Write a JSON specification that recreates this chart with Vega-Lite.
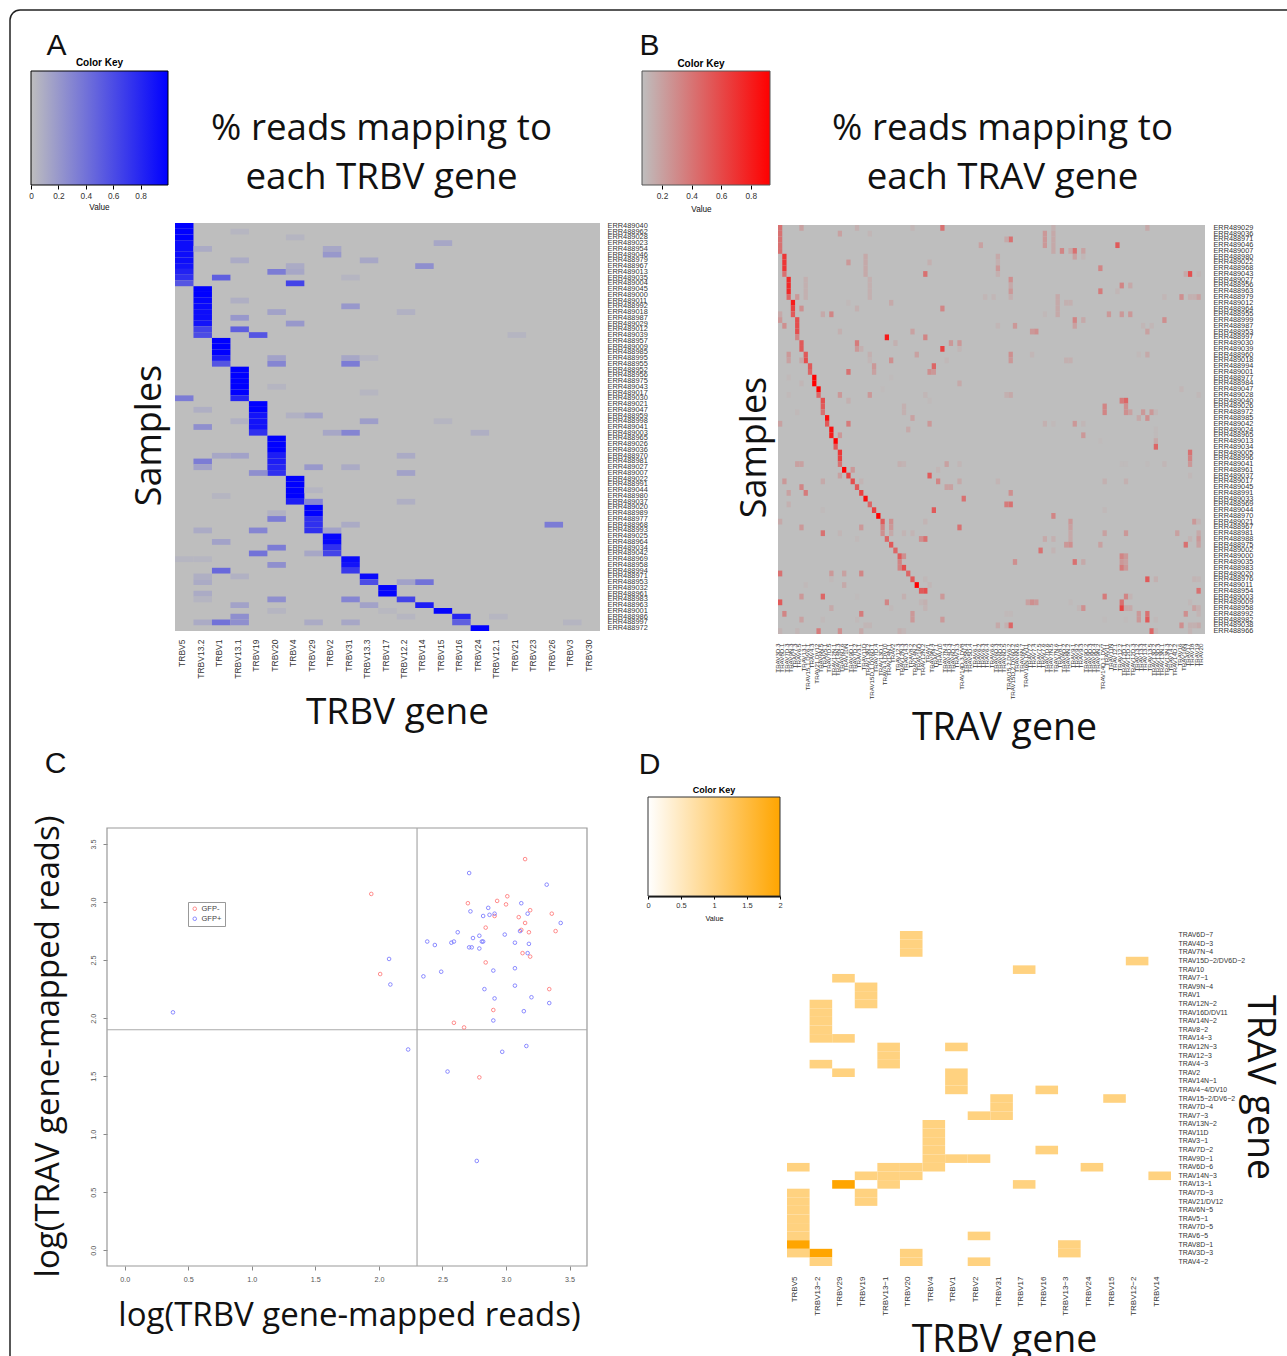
{
"$schema":"https://vega.github.io/schema/vega-lite/v6.json",
"width":1287,"height":1356,"padding":0,"autosize":{"type":"none"},"background":"white",
"config":{"view":{"stroke":null},"axis":{"grid":false,"ticks":false,"domain":false,"labelOverlap":false,"labelBound":false,"labelFlush":false,"labelFont":"Liberation Sans","labelColor":"#333","titleFont":"Open Sans","titleFontWeight":"normal","titleColor":"#111","titleBaseline":"alphabetic","titleAlign":"center","labelLimit":0}},
"resolve":{"scale":{"x":"independent","y":"independent","color":"independent"},"axis":{"x":"independent","y":"independent"},"legend":{"color":"independent"}},
"datasets":{
"unit":[{"a":0,"b":1}],
"samplesA":[{"r":0,"s":"ERR489040"},{"r":1,"s":"ERR488962"},{"r":2,"s":"ERR489028"},{"r":3,"s":"ERR489023"},{"r":4,"s":"ERR488954"},{"r":5,"s":"ERR489046"},{"r":6,"s":"ERR488979"},{"r":7,"s":"ERR488967"},{"r":8,"s":"ERR489013"},{"r":9,"s":"ERR489035"},{"r":10,"s":"ERR489004"},{"r":11,"s":"ERR489045"},{"r":12,"s":"ERR489000"},{"r":13,"s":"ERR489011"},{"r":14,"s":"ERR488992"},{"r":15,"s":"ERR489018"},{"r":16,"s":"ERR488987"},{"r":17,"s":"ERR489029"},{"r":18,"s":"ERR489012"},{"r":19,"s":"ERR489039"},{"r":20,"s":"ERR488957"},{"r":21,"s":"ERR489009"},{"r":22,"s":"ERR488985"},{"r":23,"s":"ERR488995"},{"r":24,"s":"ERR488955"},{"r":25,"s":"ERR488952"},{"r":26,"s":"ERR488956"},{"r":27,"s":"ERR488975"},{"r":28,"s":"ERR489043"},{"r":29,"s":"ERR489017"},{"r":30,"s":"ERR489030"},{"r":31,"s":"ERR489021"},{"r":32,"s":"ERR489047"},{"r":33,"s":"ERR488959"},{"r":34,"s":"ERR488998"},{"r":35,"s":"ERR489041"},{"r":36,"s":"ERR489003"},{"r":37,"s":"ERR488965"},{"r":38,"s":"ERR489026"},{"r":39,"s":"ERR489036"},{"r":40,"s":"ERR488970"},{"r":41,"s":"ERR488981"},{"r":42,"s":"ERR489027"},{"r":43,"s":"ERR489007"},{"r":44,"s":"ERR489022"},{"r":45,"s":"ERR488991"},{"r":46,"s":"ERR489044"},{"r":47,"s":"ERR488980"},{"r":48,"s":"ERR489037"},{"r":49,"s":"ERR489020"},{"r":50,"s":"ERR488989"},{"r":51,"s":"ERR488977"},{"r":52,"s":"ERR488968"},{"r":53,"s":"ERR488993"},{"r":54,"s":"ERR489025"},{"r":55,"s":"ERR488964"},{"r":56,"s":"ERR489034"},{"r":57,"s":"ERR489042"},{"r":58,"s":"ERR488969"},{"r":59,"s":"ERR488958"},{"r":60,"s":"ERR488994"},{"r":61,"s":"ERR488971"},{"r":62,"s":"ERR488953"},{"r":63,"s":"ERR489032"},{"r":64,"s":"ERR488961"},{"r":65,"s":"ERR488983"},{"r":66,"s":"ERR488963"},{"r":67,"s":"ERR489001"},{"r":68,"s":"ERR488986"},{"r":69,"s":"ERR488997"},{"r":70,"s":"ERR488972"}],
"genesA":[{"c":0,"g":"TRBV5"},{"c":1,"g":"TRBV13.2"},{"c":2,"g":"TRBV1"},{"c":3,"g":"TRBV13.1"},{"c":4,"g":"TRBV19"},{"c":5,"g":"TRBV20"},{"c":6,"g":"TRBV4"},{"c":7,"g":"TRBV29"},{"c":8,"g":"TRBV2"},{"c":9,"g":"TRBV31"},{"c":10,"g":"TRBV13.3"},{"c":11,"g":"TRBV17"},{"c":12,"g":"TRBV12.2"},{"c":13,"g":"TRBV14"},{"c":14,"g":"TRBV15"},{"c":15,"g":"TRBV16"},{"c":16,"g":"TRBV24"},{"c":17,"g":"TRBV12.1"},{"c":18,"g":"TRBV21"},{"c":19,"g":"TRBV23"},{"c":20,"g":"TRBV26"},{"c":21,"g":"TRBV3"},{"c":22,"g":"TRBV30"}],
"cellsA":[
{"r":0,"c":0,"v":1},{"r":1,"c":0,"v":1},{"r":2,"c":0,"v":1},{"r":3,"c":0,"v":0.93},{"r":4,"c":0,"v":0.93},{"r":5,"c":0,"v":0.93},{"r":6,"c":0,"v":0.93},{"r":7,"c":0,"v":0.9},{"r":8,"c":0,"v":0.82},{"r":9,"c":0,"v":0.75},{"r":10,"c":0,"v":0.55},
{"r":11,"c":1,"v":1},{"r":12,"c":1,"v":1},{"r":13,"c":1,"v":0.97},{"r":14,"c":1,"v":0.95},{"r":15,"c":1,"v":0.93},{"r":16,"c":1,"v":0.93},{"r":17,"c":1,"v":0.9},{"r":18,"c":1,"v":0.65},{"r":19,"c":1,"v":0.6},
{"r":20,"c":2,"v":1},{"r":21,"c":2,"v":1},{"r":22,"c":2,"v":1},{"r":23,"c":2,"v":0.85},{"r":24,"c":2,"v":0.55},
{"r":25,"c":3,"v":1},{"r":26,"c":3,"v":1},{"r":27,"c":3,"v":1},{"r":28,"c":3,"v":1},{"r":29,"c":3,"v":1},{"r":30,"c":3,"v":0.8},
{"r":31,"c":4,"v":1},{"r":32,"c":4,"v":1},{"r":33,"c":4,"v":0.9},{"r":34,"c":4,"v":0.9},{"r":35,"c":4,"v":0.9},{"r":36,"c":4,"v":0.75},
{"r":37,"c":5,"v":1},{"r":38,"c":5,"v":1},{"r":39,"c":5,"v":1},{"r":40,"c":5,"v":0.85},{"r":41,"c":5,"v":0.85},{"r":42,"c":5,"v":0.8},{"r":43,"c":5,"v":0.75},
{"r":44,"c":6,"v":1},{"r":45,"c":6,"v":1},{"r":46,"c":6,"v":1},{"r":47,"c":6,"v":1},{"r":48,"c":6,"v":0.85},
{"r":49,"c":7,"v":1},{"r":50,"c":7,"v":1},{"r":51,"c":7,"v":0.75},{"r":52,"c":7,"v":0.75},{"r":53,"c":7,"v":0.75},
{"r":54,"c":8,"v":0.97},{"r":55,"c":8,"v":0.97},{"r":56,"c":8,"v":0.75},{"r":57,"c":8,"v":0.65},
{"r":58,"c":9,"v":0.95},{"r":59,"c":9,"v":0.9},{"r":60,"c":9,"v":0.7},
{"r":61,"c":10,"v":0.95},{"r":62,"c":10,"v":0.6},{"r":63,"c":11,"v":0.98},{"r":64,"c":11,"v":0.98},{"r":65,"c":12,"v":0.65},{"r":66,"c":13,"v":0.85},{"r":67,"c":14,"v":0.98},{"r":68,"c":15,"v":0.8},{"r":69,"c":15,"v":0.5},{"r":70,"c":16,"v":1},
{"r":1,"c":3,"v":0.04},{"r":2,"c":6,"v":0.05},{"r":3,"c":14,"v":0.12},{"r":4,"c":1,"v":0.1},{"r":4,"c":8,"v":0.12},{"r":5,"c":8,"v":0.2},{"r":6,"c":3,"v":0.1},{"r":6,"c":10,"v":0.12},{"r":7,"c":6,"v":0.1},{"r":7,"c":13,"v":0.25},{"r":8,"c":5,"v":0.35},{"r":8,"c":6,"v":0.12},{"r":9,"c":2,"v":0.5},{"r":9,"c":9,"v":0.05},{"r":10,"c":6,"v":0.65},
{"r":13,"c":3,"v":0.08},{"r":14,"c":9,"v":0.2},{"r":15,"c":5,"v":0.15},{"r":15,"c":12,"v":0.07},{"r":16,"c":3,"v":0.2},{"r":17,"c":6,"v":0.2},{"r":18,"c":3,"v":0.5},{"r":19,"c":4,"v":0.55},{"r":19,"c":18,"v":0.05},
{"r":23,"c":5,"v":0.15},{"r":23,"c":9,"v":0.12},{"r":23,"c":10,"v":0.04},{"r":24,"c":5,"v":0.3},{"r":24,"c":9,"v":0.35},{"r":28,"c":5,"v":0.05},{"r":29,"c":10,"v":0.04},{"r":30,"c":0,"v":0.35},{"r":32,"c":1,"v":0.08},{"r":33,"c":6,"v":0.07},{"r":33,"c":7,"v":0.15},{"r":34,"c":3,"v":0.07},{"r":34,"c":10,"v":0.17},{"r":34,"c":14,"v":0.05},{"r":35,"c":1,"v":0.25},{"r":36,"c":8,"v":0.12},{"r":36,"c":9,"v":0.3},{"r":36,"c":16,"v":0.08},
{"r":40,"c":2,"v":0.12},{"r":40,"c":3,"v":0.15},{"r":40,"c":12,"v":0.1},{"r":41,"c":1,"v":0.35},{"r":42,"c":1,"v":0.15},{"r":42,"c":7,"v":0.2},{"r":42,"c":9,"v":0.1},{"r":43,"c":4,"v":0.25},{"r":43,"c":12,"v":0.15},{"r":46,"c":7,"v":0.05},{"r":47,"c":2,"v":0.05},{"r":48,"c":7,"v":0.3},{"r":48,"c":12,"v":0.08},{"r":50,"c":5,"v":0.07},{"r":51,"c":5,"v":0.35},{"r":52,"c":9,"v":0.1},{"r":52,"c":20,"v":0.35},{"r":53,"c":1,"v":0.1},{"r":53,"c":4,"v":0.3},{"r":53,"c":8,"v":0.15},{"r":55,"c":2,"v":0.15},{"r":56,"c":5,"v":0.35},{"r":57,"c":4,"v":0.4},{"r":57,"c":7,"v":0.12},{"r":58,"c":0,"v":0.04},{"r":58,"c":1,"v":0.04},{"r":59,"c":5,"v":0.25},{"r":60,"c":2,"v":0.45},{"r":61,"c":1,"v":0.08},{"r":61,"c":3,"v":0.07},{"r":62,"c":1,"v":0.1},{"r":62,"c":12,"v":0.15},{"r":62,"c":13,"v":0.4},{"r":64,"c":1,"v":0.1},{"r":65,"c":1,"v":0.05},{"r":65,"c":5,"v":0.25},{"r":65,"c":9,"v":0.3},{"r":66,"c":3,"v":0.15},{"r":66,"c":10,"v":0.15},{"r":67,"c":5,"v":0.05},{"r":67,"c":11,"v":0.03},{"r":68,"c":3,"v":0.25},{"r":68,"c":12,"v":0.04},{"r":68,"c":17,"v":0.04},{"r":69,"c":1,"v":0.1},{"r":69,"c":2,"v":0.4},{"r":69,"c":3,"v":0.25},{"r":69,"c":7,"v":0.1},{"r":69,"c":9,"v":0.12},{"r":69,"c":21,"v":0.05}],
"samplesB":[{"r":0,"s":"ERR489029"},{"r":1,"s":"ERR489036"},{"r":2,"s":"ERR488971"},{"r":3,"s":"ERR489046"},{"r":4,"s":"ERR489007"},{"r":5,"s":"ERR488980"},{"r":6,"s":"ERR489022"},{"r":7,"s":"ERR488968"},{"r":8,"s":"ERR489043"},{"r":9,"s":"ERR489027"},{"r":10,"s":"ERR488956"},{"r":11,"s":"ERR488963"},{"r":12,"s":"ERR488979"},{"r":13,"s":"ERR489012"},{"r":14,"s":"ERR488964"},{"r":15,"s":"ERR488955"},{"r":16,"s":"ERR488999"},{"r":17,"s":"ERR488987"},{"r":18,"s":"ERR488953"},{"r":19,"s":"ERR488997"},{"r":20,"s":"ERR489030"},{"r":21,"s":"ERR489039"},{"r":22,"s":"ERR488960"},{"r":23,"s":"ERR489018"},{"r":24,"s":"ERR488994"},{"r":25,"s":"ERR489001"},{"r":26,"s":"ERR488977"},{"r":27,"s":"ERR488984"},{"r":28,"s":"ERR489047"},{"r":29,"s":"ERR489028"},{"r":30,"s":"ERR489040"},{"r":31,"s":"ERR489026"},{"r":32,"s":"ERR488972"},{"r":33,"s":"ERR488985"},{"r":34,"s":"ERR489042"},{"r":35,"s":"ERR489024"},{"r":36,"s":"ERR488965"},{"r":37,"s":"ERR489013"},{"r":38,"s":"ERR489034"},{"r":39,"s":"ERR489005"},{"r":40,"s":"ERR488996"},{"r":41,"s":"ERR489041"},{"r":42,"s":"ERR488961"},{"r":43,"s":"ERR489037"},{"r":44,"s":"ERR489017"},{"r":45,"s":"ERR489045"},{"r":46,"s":"ERR488991"},{"r":47,"s":"ERR489033"},{"r":48,"s":"ERR488969"},{"r":49,"s":"ERR489044"},{"r":50,"s":"ERR488970"},{"r":51,"s":"ERR489021"},{"r":52,"s":"ERR488967"},{"r":53,"s":"ERR488981"},{"r":54,"s":"ERR488988"},{"r":55,"s":"ERR488975"},{"r":56,"s":"ERR489002"},{"r":57,"s":"ERR489000"},{"r":58,"s":"ERR489035"},{"r":59,"s":"ERR488983"},{"r":60,"s":"ERR489020"},{"r":61,"s":"ERR488976"},{"r":62,"s":"ERR489011"},{"r":63,"s":"ERR488954"},{"r":64,"s":"ERR489003"},{"r":65,"s":"ERR489009"},{"r":66,"s":"ERR488958"},{"r":67,"s":"ERR488992"},{"r":68,"s":"ERR488982"},{"r":69,"s":"ERR489038"},{"r":70,"s":"ERR488966"}],
"genesB":[{"c":0,"g":"TRAV3D.3"},{"c":1,"g":"TRAV8D.1"},{"c":2,"g":"TRAV7D.3"},{"c":3,"g":"TRAV9N.3"},{"c":4,"g":"TRAV7.3"},{"c":5,"g":"TRAV6.5"},{"c":6,"g":"TRAV13.1"},{"c":7,"g":"TRAV15.1.DV6.1"},{"c":8,"g":"TRAV4.3"},{"c":9,"g":"TRAV21.DV12"},{"c":10,"g":"TRAV6N.5"},{"c":11,"g":"TRAV5.1"},{"c":12,"g":"TRAV7D.5"},{"c":13,"g":"TRAV12N.1"},{"c":14,"g":"TRAV14N.3"},{"c":15,"g":"TRAV6D.6"},{"c":16,"g":"TRAV10N"},{"c":17,"g":"TRAV9D.1"},{"c":18,"g":"TRAV7D.2"},{"c":19,"g":"TRAV3.1"},{"c":20,"g":"TRAV11D"},{"c":21,"g":"TRAV13N.2"},{"c":22,"g":"TRAV15D.1.DV6D.1"},{"c":23,"g":"TRAV7D.4"},{"c":24,"g":"TRAV13D.1"},{"c":25,"g":"TRAV4.4.DV10"},{"c":26,"g":"TRAV14N.1"},{"c":27,"g":"TRAV2"},{"c":28,"g":"TRAV12.3"},{"c":29,"g":"TRAV12N.3"},{"c":30,"g":"TRAV14.3"},{"c":31,"g":"TRAV8.2"},{"c":32,"g":"TRAV14N.2"},{"c":33,"g":"TRAV16D"},{"c":34,"g":"TRAV12N.2"},{"c":35,"g":"TRAV1"},{"c":36,"g":"TRAV9N.4"},{"c":37,"g":"TRAV7.1"},{"c":38,"g":"TRAV10"},{"c":39,"g":"TRAV7N.4"},{"c":40,"g":"TRAV4D.3"},{"c":41,"g":"TRAV6D.7"},{"c":42,"g":"TRAV3.3"},{"c":43,"g":"TRAV14D.3.DV8"},{"c":44,"g":"TRAV5N.4"},{"c":45,"g":"TRAV5D.4"},{"c":46,"g":"TRAV6.1"},{"c":47,"g":"TRAV6.2"},{"c":48,"g":"TRAV6.3"},{"c":49,"g":"TRAV6.4"},{"c":50,"g":"TRAV6.6"},{"c":51,"g":"TRAV6D.3"},{"c":52,"g":"TRAV6D.4"},{"c":53,"g":"TRAV6D.5"},{"c":54,"g":"TRAV15.2.DV6.2"},{"c":55,"g":"TRAV15D.2.DV6D.2"},{"c":56,"g":"TRAV6N.6"},{"c":57,"g":"TRAV6N.7"},{"c":58,"g":"TRAV16N.DV11"},{"c":59,"g":"TRAV7.2"},{"c":60,"g":"TRAV7.4"},{"c":61,"g":"TRAV7.5"},{"c":62,"g":"TRAV7.6"},{"c":63,"g":"TRAV7D.6"},{"c":64,"g":"TRAV7N.5"},{"c":65,"g":"TRAV7N.6"},{"c":66,"g":"TRAV8.1"},{"c":67,"g":"TRAV8D.2"},{"c":68,"g":"TRAV8N.2"},{"c":69,"g":"TRAV9.1"},{"c":70,"g":"TRAV9.2"},{"c":71,"g":"TRAV9.3"},{"c":72,"g":"TRAV9D.2"},{"c":73,"g":"TRAV9D.3"},{"c":74,"g":"TRAV9D.4"},{"c":75,"g":"TRAV9N.2"},{"c":76,"g":"TRAV14D.1.DV7"},{"c":77,"g":"TRAV11"},{"c":78,"g":"TRAV11N"},{"c":79,"g":"TRAV12.1"},{"c":80,"g":"TRAV12.2"},{"c":81,"g":"TRAV12D.1"},{"c":82,"g":"TRAV12D.2"},{"c":83,"g":"TRAV12D.3"},{"c":84,"g":"TRAV13.2"},{"c":85,"g":"TRAV13.3"},{"c":86,"g":"TRAV13.4"},{"c":87,"g":"TRAV13.5"},{"c":88,"g":"TRAV13D.2"},{"c":89,"g":"TRAV13D.3"},{"c":90,"g":"TRAV13N.1"},{"c":91,"g":"TRAV13N.3"},{"c":92,"g":"TRAV14.2"},{"c":93,"g":"TRAV14D.2"},{"c":94,"g":"TRAV16"},{"c":95,"g":"TRAV16N"},{"c":96,"g":"TRAV17"},{"c":97,"g":"TRAV18"},{"c":98,"g":"TRAV19"},{"c":99,"g":"TRAV20"}],
"cellsB":[
{"r":0,"c":0,"v":0.5},{"r":1,"c":0,"v":0.5},{"r":2,"c":0,"v":0.5},{"r":3,"c":0,"v":0.5},{"r":4,"c":0,"v":0.5},{"r":5,"c":1,"v":0.75},{"r":6,"c":1,"v":0.75},{"r":7,"c":1,"v":0.75},{"r":8,"c":1,"v":0.5},{"r":9,"c":2,"v":0.8},{"r":10,"c":2,"v":0.8},{"r":11,"c":2,"v":0.8},{"r":12,"c":2,"v":0.55},{"r":13,"c":3,"v":0.85},{"r":14,"c":3,"v":0.7},{"r":15,"c":3,"v":0.6},{"r":16,"c":4,"v":0.65},{"r":17,"c":4,"v":0.65},{"r":18,"c":4,"v":0.65},{"r":19,"c":4,"v":0.4},{"r":20,"c":5,"v":0.6},{"r":21,"c":5,"v":0.6},{"r":22,"c":6,"v":0.6},{"r":23,"c":6,"v":0.65},{"r":24,"c":7,"v":0.6},{"r":25,"c":7,"v":0.55},{"r":26,"c":8,"v":0.95},{"r":27,"c":8,"v":0.95},{"r":28,"c":9,"v":0.95},{"r":29,"c":9,"v":0.55},{"r":30,"c":10,"v":0.65},{"r":31,"c":10,"v":0.6},{"r":32,"c":10,"v":0.5},{"r":33,"c":11,"v":0.9},{"r":34,"c":11,"v":0.6},{"r":35,"c":12,"v":0.9},{"r":36,"c":12,"v":0.85},{"r":37,"c":13,"v":0.95},{"r":38,"c":13,"v":0.6},{"r":39,"c":14,"v":0.75},{"r":40,"c":14,"v":0.7},{"r":41,"c":14,"v":0.5},{"r":42,"c":15,"v":0.95},{"r":43,"c":16,"v":0.7},{"r":44,"c":17,"v":0.65},{"r":45,"c":18,"v":0.6},{"r":46,"c":19,"v":0.7},{"r":47,"c":20,"v":0.9},{"r":48,"c":21,"v":0.55},{"r":49,"c":22,"v":0.7},{"r":50,"c":23,"v":0.95},{"r":51,"c":24,"v":0.6},{"r":52,"c":24,"v":0.4},{"r":53,"c":24,"v":0.35},{"r":54,"c":25,"v":0.55},{"r":55,"c":26,"v":0.6},{"r":56,"c":27,"v":0.55},{"r":57,"c":28,"v":0.6},{"r":58,"c":28,"v":0.4},{"r":59,"c":28,"v":0.4},{"r":57,"c":29,"v":0.35},{"r":59,"c":29,"v":0.65},{"r":60,"c":30,"v":0.55},{"r":61,"c":31,"v":0.6},{"r":62,"c":32,"v":0.95},{"r":63,"c":33,"v":0.6},{"r":63,"c":34,"v":0.65},
{"r":0,"c":5,"v":0.25},{"r":0,"c":38,"v":0.5},{"r":0,"c":18,"v":0.15},{"r":0,"c":31,"v":0.1},{"r":0,"c":64,"v":0.15},{"r":1,"c":64,"v":0.2},{"r":2,"c":64,"v":0.2},{"r":3,"c":64,"v":0.2},{"r":4,"c":64,"v":0.2},{"r":1,"c":62,"v":0.3},{"r":2,"c":62,"v":0.3},{"r":3,"c":62,"v":0.3},{"r":0,"c":86,"v":0.2},{"r":1,"c":14,"v":0.25},{"r":1,"c":21,"v":0.1},{"r":2,"c":54,"v":0.5},{"r":2,"c":53,"v":0.2},{"r":3,"c":47,"v":0.25},{"r":3,"c":79,"v":0.6},{"r":4,"c":66,"v":0.4},{"r":4,"c":68,"v":0.2},{"r":4,"c":69,"v":0.5},{"r":4,"c":71,"v":0.25},{"r":5,"c":69,"v":0.25},{"r":5,"c":71,"v":0.1},{"r":5,"c":51,"v":0.2},{"r":6,"c":51,"v":0.15},{"r":7,"c":51,"v":0.3},{"r":8,"c":51,"v":0.15},{"r":5,"c":20,"v":0.2},{"r":6,"c":20,"v":0.2},{"r":7,"c":20,"v":0.2},{"r":8,"c":20,"v":0.2},{"r":6,"c":16,"v":0.3},{"r":6,"c":35,"v":0.15},{"r":7,"c":75,"v":0.4},{"r":8,"c":34,"v":0.5},{"r":8,"c":96,"v":0.65},{"r":8,"c":95,"v":0.2},{"r":8,"c":98,"v":0.1},{"r":9,"c":54,"v":0.35},{"r":9,"c":6,"v":0.15},{"r":10,"c":6,"v":0.15},{"r":11,"c":6,"v":0.15},{"r":12,"c":6,"v":0.15},{"r":9,"c":21,"v":0.15},{"r":10,"c":21,"v":0.15},{"r":11,"c":21,"v":0.15},{"r":12,"c":21,"v":0.15},{"r":10,"c":80,"v":0.4},{"r":10,"c":82,"v":0.2},{"r":10,"c":54,"v":0.2},{"r":11,"c":54,"v":0.3},{"r":12,"c":54,"v":0.15},{"r":11,"c":75,"v":0.45},{"r":11,"c":79,"v":0.1},{"r":12,"c":4,"v":0.3},{"r":12,"c":48,"v":0.1},{"r":12,"c":50,"v":0.1},{"r":12,"c":65,"v":0.2},{"r":13,"c":65,"v":0.2},{"r":14,"c":65,"v":0.2},{"r":15,"c":65,"v":0.2},{"r":12,"c":90,"v":0.1},{"r":12,"c":94,"v":0.35},{"r":12,"c":96,"v":0.15},{"r":12,"c":97,"v":0.15},{"r":12,"c":98,"v":0.25},{"r":13,"c":16,"v":0.07},{"r":13,"c":26,"v":0.2},{"r":13,"c":67,"v":0.15},{"r":13,"c":68,"v":0.15},{"r":14,"c":5,"v":0.35},{"r":14,"c":18,"v":0.15},{"r":14,"c":38,"v":0.4},{"r":15,"c":0,"v":0.2},{"r":15,"c":10,"v":0.2},{"r":15,"c":12,"v":0.4},{"r":15,"c":62,"v":0.08},{"r":15,"c":77,"v":0.3},{"r":15,"c":80,"v":0.3},{"r":15,"c":82,"v":0.3},{"r":16,"c":0,"v":0.3},{"r":16,"c":69,"v":0.4},{"r":16,"c":71,"v":0.2},{"r":16,"c":90,"v":0.35},{"r":17,"c":1,"v":0.35},{"r":17,"c":55,"v":0.3},{"r":17,"c":51,"v":0.1},{"r":17,"c":69,"v":0.25},{"r":17,"c":85,"v":0.1},{"r":17,"c":87,"v":0.1},{"r":18,"c":14,"v":0.15},{"r":18,"c":31,"v":0.25},{"r":18,"c":59,"v":0.3},{"r":18,"c":60,"v":0.35},{"r":18,"c":86,"v":0.25},{"r":19,"c":25,"v":0.85},{"r":19,"c":34,"v":0.4},{"r":20,"c":18,"v":0.45},{"r":20,"c":27,"v":0.15},{"r":20,"c":40,"v":0.3},{"r":20,"c":42,"v":0.3},{"r":21,"c":18,"v":0.3},{"r":21,"c":19,"v":0.15},{"r":21,"c":38,"v":0.7},{"r":21,"c":42,"v":0.1},{"r":22,"c":2,"v":0.3},{"r":22,"c":21,"v":0.15},{"r":22,"c":32,"v":0.25},{"r":22,"c":54,"v":0.35},{"r":22,"c":59,"v":0.1},{"r":22,"c":86,"v":0.2},{"r":22,"c":84,"v":0.07},{"r":23,"c":2,"v":0.25},{"r":23,"c":5,"v":0.2},{"r":23,"c":21,"v":0.1},{"r":23,"c":26,"v":0.35},{"r":23,"c":54,"v":0.3},{"r":23,"c":39,"v":0.08},{"r":23,"c":67,"v":0.15},{"r":23,"c":68,"v":0.15},{"r":24,"c":36,"v":0.55},{"r":24,"c":22,"v":0.3},{"r":25,"c":16,"v":0.5},{"r":25,"c":22,"v":0.25},{"r":25,"c":35,"v":0.35},{"r":25,"c":36,"v":0.3},{"r":26,"c":2,"v":0.07},{"r":26,"c":26,"v":0.05},{"r":27,"c":5,"v":0.1},{"r":27,"c":42,"v":0.2},{"r":28,"c":24,"v":0.05},{"r":28,"c":94,"v":0.1},{"r":29,"c":2,"v":0.07},{"r":29,"c":14,"v":0.3},{"r":29,"c":21,"v":0.3},{"r":29,"c":34,"v":0.1},{"r":29,"c":53,"v":0.15},{"r":29,"c":54,"v":0.2},{"r":29,"c":98,"v":0.08},{"r":30,"c":16,"v":0.15},{"r":30,"c":35,"v":0.06},{"r":30,"c":80,"v":0.45},{"r":30,"c":81,"v":0.55},{"r":31,"c":29,"v":0.15},{"r":31,"c":76,"v":0.4},{"r":31,"c":81,"v":0.35},{"r":32,"c":4,"v":0.07},{"r":32,"c":29,"v":0.15},{"r":32,"c":76,"v":0.4},{"r":32,"c":81,"v":0.35},{"r":32,"c":82,"v":0.25},{"r":32,"c":85,"v":0.3},{"r":32,"c":87,"v":0.3},{"r":32,"c":88,"v":0.1},{"r":33,"c":31,"v":0.25},{"r":33,"c":84,"v":0.2},{"r":33,"c":86,"v":0.35},{"r":34,"c":0,"v":0.25},{"r":34,"c":16,"v":0.45},{"r":34,"c":35,"v":0.3},{"r":34,"c":62,"v":0.15},{"r":34,"c":64,"v":0.07},{"r":34,"c":69,"v":0.3},{"r":34,"c":71,"v":0.1},{"r":35,"c":30,"v":0.2},{"r":35,"c":88,"v":0.06},{"r":36,"c":14,"v":0.3},{"r":36,"c":71,"v":0.3},{"r":36,"c":88,"v":0.06},{"r":37,"c":88,"v":0.2},{"r":37,"c":75,"v":0.05},{"r":38,"c":88,"v":0.55},{"r":39,"c":96,"v":0.5},{"r":40,"c":96,"v":0.4},{"r":41,"c":4,"v":0.25},{"r":41,"c":5,"v":0.25},{"r":41,"c":28,"v":0.15},{"r":41,"c":29,"v":0.12},{"r":41,"c":39,"v":0.25},{"r":41,"c":42,"v":0.1},{"r":41,"c":80,"v":0.05},{"r":41,"c":81,"v":0.05},{"r":41,"c":86,"v":0.05},{"r":41,"c":90,"v":0.1},{"r":41,"c":96,"v":0.3},{"r":42,"c":17,"v":0.3},{"r":42,"c":37,"v":0.1},{"r":43,"c":14,"v":0.25},{"r":43,"c":35,"v":0.6},{"r":43,"c":96,"v":0.08},{"r":44,"c":1,"v":0.3},{"r":44,"c":10,"v":0.2},{"r":44,"c":19,"v":0.12},{"r":44,"c":37,"v":0.4},{"r":44,"c":42,"v":0.2},{"r":44,"c":51,"v":0.12},{"r":44,"c":76,"v":0.15},{"r":44,"c":81,"v":0.15},{"r":45,"c":5,"v":0.4},{"r":45,"c":39,"v":0.25},{"r":45,"c":40,"v":0.25},{"r":46,"c":2,"v":0.25},{"r":46,"c":6,"v":0.45},{"r":46,"c":54,"v":0.35},{"r":47,"c":43,"v":0.5},{"r":48,"c":2,"v":0.15},{"r":48,"c":53,"v":0.45},{"r":48,"c":54,"v":0.5},{"r":49,"c":10,"v":0.06},{"r":49,"c":36,"v":0.6},{"r":49,"c":76,"v":0.08},{"r":50,"c":64,"v":0.4},{"r":51,"c":0,"v":0.2},{"r":51,"c":26,"v":0.35},{"r":51,"c":34,"v":0.12},{"r":51,"c":68,"v":0.3},{"r":51,"c":97,"v":0.3},{"r":51,"c":98,"v":0.12},{"r":52,"c":5,"v":0.3},{"r":52,"c":19,"v":0.3},{"r":52,"c":26,"v":0.3},{"r":52,"c":42,"v":0.5},{"r":52,"c":68,"v":0.25},{"r":53,"c":10,"v":0.5},{"r":53,"c":14,"v":0.1},{"r":53,"c":26,"v":0.2},{"r":53,"c":29,"v":0.12},{"r":53,"c":31,"v":0.12},{"r":53,"c":68,"v":0.2},{"r":53,"c":76,"v":0.25},{"r":53,"c":81,"v":0.3},{"r":53,"c":93,"v":0.25},{"r":53,"c":98,"v":0.2},{"r":54,"c":18,"v":0.07},{"r":54,"c":33,"v":0.35},{"r":54,"c":34,"v":0.5},{"r":54,"c":62,"v":0.2},{"r":54,"c":64,"v":0.15},{"r":54,"c":68,"v":0.2},{"r":54,"c":96,"v":0.12},{"r":54,"c":98,"v":0.3},{"r":55,"c":67,"v":0.3},{"r":55,"c":68,"v":0.35},{"r":55,"c":75,"v":0.25},{"r":55,"c":95,"v":0.5},{"r":55,"c":98,"v":0.25},{"r":56,"c":61,"v":0.5},{"r":56,"c":64,"v":0.12},{"r":57,"c":80,"v":0.4},{"r":58,"c":80,"v":0.3},{"r":59,"c":80,"v":0.45},{"r":57,"c":81,"v":0.3},{"r":58,"c":81,"v":0.25},{"r":59,"c":81,"v":0.3},{"r":58,"c":55,"v":0.35},{"r":58,"c":69,"v":0.5},{"r":58,"c":71,"v":0.2},{"r":60,"c":0,"v":0.5},{"r":60,"c":12,"v":0.3},{"r":60,"c":15,"v":0.25},{"r":60,"c":19,"v":0.4},{"r":61,"c":12,"v":0.07},{"r":61,"c":34,"v":0.08},{"r":61,"c":86,"v":0.6},{"r":61,"c":88,"v":0.15},{"r":61,"c":97,"v":0.12},{"r":61,"c":98,"v":0.1},{"r":62,"c":6,"v":0.07},{"r":62,"c":15,"v":0.2},{"r":62,"c":35,"v":0.1},{"r":63,"c":98,"v":0.5},{"r":64,"c":5,"v":0.3},{"r":64,"c":10,"v":0.55},{"r":64,"c":18,"v":0.05},{"r":64,"c":29,"v":0.15},{"r":64,"c":38,"v":0.3},{"r":64,"c":76,"v":0.45},{"r":64,"c":81,"v":0.4},{"r":64,"c":82,"v":0.12},{"r":65,"c":0,"v":0.6},{"r":65,"c":25,"v":0.4},{"r":65,"c":33,"v":0.1},{"r":65,"c":34,"v":0.15},{"r":65,"c":58,"v":0.25},{"r":65,"c":59,"v":0.35},{"r":65,"c":60,"v":0.3},{"r":65,"c":68,"v":0.06},{"r":65,"c":80,"v":0.5},{"r":65,"c":96,"v":0.08},{"r":66,"c":12,"v":0.2},{"r":66,"c":26,"v":0.07},{"r":66,"c":34,"v":0.12},{"r":66,"c":70,"v":0.1},{"r":66,"c":71,"v":0.35},{"r":66,"c":80,"v":0.7},{"r":66,"c":81,"v":0.2},{"r":66,"c":82,"v":0.2},{"r":66,"c":97,"v":0.25},{"r":66,"c":98,"v":0.15},{"r":67,"c":1,"v":0.4},{"r":67,"c":19,"v":0.45},{"r":67,"c":31,"v":0.3},{"r":67,"c":53,"v":0.07},{"r":67,"c":54,"v":0.07},{"r":67,"c":84,"v":0.3},{"r":67,"c":86,"v":0.5},{"r":67,"c":95,"v":0.35},{"r":67,"c":98,"v":0.12},{"r":68,"c":5,"v":0.25},{"r":68,"c":10,"v":0.07},{"r":68,"c":18,"v":0.07},{"r":68,"c":31,"v":0.3},{"r":68,"c":38,"v":0.3},{"r":68,"c":76,"v":0.05},{"r":68,"c":81,"v":0.05},{"r":68,"c":84,"v":0.3},{"r":68,"c":86,"v":0.6},{"r":68,"c":88,"v":0.07},{"r":69,"c":20,"v":0.1},{"r":69,"c":21,"v":0.1},{"r":69,"c":51,"v":0.2},{"r":69,"c":53,"v":0.15},{"r":69,"c":54,"v":0.55},{"r":69,"c":94,"v":0.35},{"r":69,"c":96,"v":0.15},{"r":69,"c":97,"v":0.15},{"r":69,"c":98,"v":0.2},{"r":70,"c":0,"v":0.12},{"r":70,"c":4,"v":0.1},{"r":70,"c":9,"v":0.45},{"r":70,"c":14,"v":0.35},{"r":70,"c":19,"v":0.2},{"r":70,"c":28,"v":0.15},{"r":70,"c":29,"v":0.1},{"r":70,"c":87,"v":0.55},{"r":70,"c":88,"v":0.1},{"r":70,"c":96,"v":0.12}],
"samplesD":[{"r":0,"s":"TRAV6D−7"},{"r":1,"s":"TRAV4D−3"},{"r":2,"s":"TRAV7N−4"},{"r":3,"s":"TRAV15D−2/DV6D−2"},{"r":4,"s":"TRAV10"},{"r":5,"s":"TRAV7−1"},{"r":6,"s":"TRAV9N−4"},{"r":7,"s":"TRAV1"},{"r":8,"s":"TRAV12N−2"},{"r":9,"s":"TRAV16D/DV11"},{"r":10,"s":"TRAV14N−2"},{"r":11,"s":"TRAV8−2"},{"r":12,"s":"TRAV14−3"},{"r":13,"s":"TRAV12N−3"},{"r":14,"s":"TRAV12−3"},{"r":15,"s":"TRAV4−3"},{"r":16,"s":"TRAV2"},{"r":17,"s":"TRAV14N−1"},{"r":18,"s":"TRAV4−4/DV10"},{"r":19,"s":"TRAV15−2/DV6−2"},{"r":20,"s":"TRAV7D−4"},{"r":21,"s":"TRAV7−3"},{"r":22,"s":"TRAV13N−2"},{"r":23,"s":"TRAV11D"},{"r":24,"s":"TRAV3−1"},{"r":25,"s":"TRAV7D−2"},{"r":26,"s":"TRAV9D−1"},{"r":27,"s":"TRAV6D−6"},{"r":28,"s":"TRAV14N−3"},{"r":29,"s":"TRAV13−1"},{"r":30,"s":"TRAV7D−3"},{"r":31,"s":"TRAV21/DV12"},{"r":32,"s":"TRAV6N−5"},{"r":33,"s":"TRAV5−1"},{"r":34,"s":"TRAV7D−5"},{"r":35,"s":"TRAV6−5"},{"r":36,"s":"TRAV8D−1"},{"r":37,"s":"TRAV3D−3"},{"r":38,"s":"TRAV4−2"}],
"genesD":[{"c":0,"g":"TRBV5"},{"c":1,"g":"TRBV13−2"},{"c":2,"g":"TRBV29"},{"c":3,"g":"TRBV19"},{"c":4,"g":"TRBV13−1"},{"c":5,"g":"TRBV20"},{"c":6,"g":"TRBV4"},{"c":7,"g":"TRBV1"},{"c":8,"g":"TRBV2"},{"c":9,"g":"TRBV31"},{"c":10,"g":"TRBV17"},{"c":11,"g":"TRBV16"},{"c":12,"g":"TRBV13−3"},{"c":13,"g":"TRBV24"},{"c":14,"g":"TRBV15"},{"c":15,"g":"TRBV12−2"},{"c":16,"g":"TRBV14"}],
"cellsD":[{"r":0,"c":5,"v":1},{"r":1,"c":5,"v":1},{"r":2,"c":5,"v":1},{"r":3,"c":15,"v":1},{"r":4,"c":10,"v":1},{"r":5,"c":2,"v":1},{"r":6,"c":3,"v":1},{"r":7,"c":3,"v":1},{"r":8,"c":3,"v":1},{"r":8,"c":1,"v":1},{"r":9,"c":1,"v":1},{"r":10,"c":1,"v":1},{"r":11,"c":1,"v":1},{"r":12,"c":1,"v":1},{"r":12,"c":2,"v":1},{"r":13,"c":4,"v":1},{"r":14,"c":4,"v":1},{"r":15,"c":4,"v":1},{"r":13,"c":7,"v":1},{"r":15,"c":1,"v":1},{"r":16,"c":2,"v":1},{"r":16,"c":7,"v":1},{"r":17,"c":7,"v":1},{"r":18,"c":7,"v":1},{"r":18,"c":11,"v":1},{"r":19,"c":9,"v":1},{"r":20,"c":9,"v":1},{"r":21,"c":9,"v":1},{"r":19,"c":14,"v":1},{"r":21,"c":8,"v":1},{"r":22,"c":6,"v":1},{"r":23,"c":6,"v":1},{"r":24,"c":6,"v":1},{"r":25,"c":6,"v":1},{"r":26,"c":6,"v":1},{"r":27,"c":6,"v":1},{"r":25,"c":11,"v":1},{"r":26,"c":7,"v":1},{"r":26,"c":8,"v":1},{"r":27,"c":0,"v":1},{"r":27,"c":4,"v":1},{"r":27,"c":5,"v":1},{"r":27,"c":13,"v":1},{"r":28,"c":3,"v":1},{"r":28,"c":4,"v":1},{"r":28,"c":5,"v":1},{"r":28,"c":16,"v":1},{"r":29,"c":2,"v":2},{"r":29,"c":4,"v":1},{"r":29,"c":10,"v":1},{"r":30,"c":0,"v":1},{"r":31,"c":0,"v":1},{"r":32,"c":0,"v":1},{"r":33,"c":0,"v":1},{"r":34,"c":0,"v":1},{"r":35,"c":0,"v":1},{"r":36,"c":0,"v":2},{"r":37,"c":0,"v":1},{"r":30,"c":3,"v":1},{"r":31,"c":3,"v":1},{"r":35,"c":8,"v":1},{"r":36,"c":12,"v":1},{"r":37,"c":12,"v":1},{"r":37,"c":1,"v":2},{"r":38,"c":1,"v":1},{"r":37,"c":5,"v":1},{"r":38,"c":5,"v":1},{"r":38,"c":8,"v":1}],
"scatter":[{"tr":3.15,"ta":3.37,"g":"GFP-"},{"tr":1.94,"ta":3.07,"g":"GFP-"},{"tr":3.01,"ta":3.05,"g":"GFP-"},{"tr":2.93,"ta":3.01,"g":"GFP-"},{"tr":2.7,"ta":2.99,"g":"GFP-"},{"tr":3.0,"ta":2.98,"g":"GFP-"},{"tr":3.19,"ta":2.93,"g":"GFP-"},{"tr":3.36,"ta":2.9,"g":"GFP-"},{"tr":2.91,"ta":2.88,"g":"GFP-"},{"tr":3.1,"ta":2.87,"g":"GFP-"},{"tr":3.15,"ta":2.82,"g":"GFP-"},{"tr":2.84,"ta":2.78,"g":"GFP-"},{"tr":3.12,"ta":2.76,"g":"GFP-"},{"tr":3.18,"ta":2.74,"g":"GFP-"},{"tr":3.39,"ta":2.75,"g":"GFP-"},{"tr":3.13,"ta":2.56,"g":"GFP-"},{"tr":3.19,"ta":2.53,"g":"GFP-"},{"tr":2.84,"ta":2.48,"g":"GFP-"},{"tr":2.01,"ta":2.38,"g":"GFP-"},{"tr":3.34,"ta":2.25,"g":"GFP-"},{"tr":2.9,"ta":2.07,"g":"GFP-"},{"tr":2.59,"ta":1.96,"g":"GFP-"},{"tr":2.67,"ta":1.92,"g":"GFP-"},{"tr":2.79,"ta":1.49,"g":"GFP-"},
{"tr":2.71,"ta":3.25,"g":"GFP+"},{"tr":3.32,"ta":3.15,"g":"GFP+"},{"tr":3.12,"ta":2.99,"g":"GFP+"},{"tr":2.86,"ta":2.95,"g":"GFP+"},{"tr":2.72,"ta":2.92,"g":"GFP+"},{"tr":2.91,"ta":2.9,"g":"GFP+"},{"tr":3.17,"ta":2.9,"g":"GFP+"},{"tr":2.82,"ta":2.88,"g":"GFP+"},{"tr":2.87,"ta":2.89,"g":"GFP+"},{"tr":3.43,"ta":2.82,"g":"GFP+"},{"tr":3.11,"ta":2.75,"g":"GFP+"},{"tr":2.62,"ta":2.74,"g":"GFP+"},{"tr":2.99,"ta":2.72,"g":"GFP+"},{"tr":2.79,"ta":2.71,"g":"GFP+"},{"tr":2.74,"ta":2.69,"g":"GFP+"},{"tr":2.38,"ta":2.66,"g":"GFP+"},{"tr":2.59,"ta":2.66,"g":"GFP+"},{"tr":2.57,"ta":2.65,"g":"GFP+"},{"tr":2.44,"ta":2.63,"g":"GFP+"},{"tr":2.81,"ta":2.66,"g":"GFP+"},{"tr":2.82,"ta":2.66,"g":"GFP+"},{"tr":3.07,"ta":2.65,"g":"GFP+"},{"tr":3.18,"ta":2.64,"g":"GFP+"},{"tr":2.71,"ta":2.61,"g":"GFP+"},{"tr":2.73,"ta":2.61,"g":"GFP+"},{"tr":2.79,"ta":2.6,"g":"GFP+"},{"tr":3.17,"ta":2.56,"g":"GFP+"},{"tr":2.08,"ta":2.51,"g":"GFP+"},{"tr":3.07,"ta":2.43,"g":"GFP+"},{"tr":2.9,"ta":2.41,"g":"GFP+"},{"tr":2.49,"ta":2.4,"g":"GFP+"},{"tr":2.35,"ta":2.36,"g":"GFP+"},{"tr":2.09,"ta":2.29,"g":"GFP+"},{"tr":3.07,"ta":2.28,"g":"GFP+"},{"tr":2.83,"ta":2.25,"g":"GFP+"},{"tr":2.91,"ta":2.17,"g":"GFP+"},{"tr":3.2,"ta":2.18,"g":"GFP+"},{"tr":3.34,"ta":2.13,"g":"GFP+"},{"tr":3.14,"ta":2.06,"g":"GFP+"},{"tr":2.9,"ta":1.98,"g":"GFP+"},{"tr":0.38,"ta":2.05,"g":"GFP+"},{"tr":2.23,"ta":1.73,"g":"GFP+"},{"tr":3.16,"ta":1.76,"g":"GFP+"},{"tr":2.97,"ta":1.71,"g":"GFP+"},{"tr":2.54,"ta":1.54,"g":"GFP+"},{"tr":2.77,"ta":0.77,"g":"GFP+"}]
},
"layer":[
{"data":{"name":"unit"},"mark":{"type":"rect","filled":false,"stroke":"#222","strokeWidth":1.5,"cornerRadius":10},
 "encoding":{"x":{"field":"a","type":"quantitative","scale":{"domain":[0,1],"range":[10,1500],"nice":false,"zero":false},"axis":null},"x2":{"field":"b"},"y":{"field":"a","type":"quantitative","scale":{"domain":[0,1],"range":[10,1500],"nice":false,"zero":false},"axis":null},"y2":{"field":"b"}}},

{"data":{"name":"unit"},"mark":{"type":"rect","fill":"#BEBEBE"},
 "encoding":{"x":{"field":"a","type":"quantitative","scale":{"domain":[0,1],"range":[175,600],"nice":false,"zero":false},"axis":{"orient":"top","offset":-223,"labels":false,"title":["% reads mapping to","each TRBV gene"],"titleFontSize":36.7,"titleLineHeight":49,"titleX":381,"titleY":-84}},"x2":{"field":"b"},
 "y":{"field":"a","type":"quantitative","scale":{"domain":[0,1],"range":[631,223],"nice":false,"zero":false},"axis":{"orient":"left","offset":-175,"labels":false,"title":"Samples","titleFontSize":36,"titleAngle":-90,"titleX":-15,"titleY":435}},"y2":{"field":"b"}}},
{"data":{"name":"cellsA"},"transform":[{"lookup":"r","from":{"data":{"name":"samplesA"},"key":"r","fields":["s"]}},{"lookup":"c","from":{"data":{"name":"genesA"},"key":"c","fields":["g"]}}],"mark":{"type":"rect"},
 "encoding":{"x":{"field":"g","type":"nominal","sort":null,"scale":{"type":"band","domain":["TRBV5","TRBV13.2","TRBV1","TRBV13.1","TRBV19","TRBV20","TRBV4","TRBV29","TRBV2","TRBV31","TRBV13.3","TRBV17","TRBV12.2","TRBV14","TRBV15","TRBV16","TRBV24","TRBV12.1","TRBV21","TRBV23","TRBV26","TRBV3","TRBV30"],"range":[175,600],"paddingInner":0,"paddingOuter":0},"axis":{"orient":"bottom","offset":-725,"labelAngle":-90,"labelFontSize":8.5,"labelPadding":8,"labelOffset":-2,"title":"TRBV gene","titleFontSize":37,"titleX":397,"titleY":92}},
 "y":{"field":"s","type":"nominal","sort":null,"scale":{"type":"band","domain":["ERR489040","ERR488962","ERR489028","ERR489023","ERR488954","ERR489046","ERR488979","ERR488967","ERR489013","ERR489035","ERR489004","ERR489045","ERR489000","ERR489011","ERR488992","ERR489018","ERR488987","ERR489029","ERR489012","ERR489039","ERR488957","ERR489009","ERR488985","ERR488995","ERR488955","ERR488952","ERR488956","ERR488975","ERR489043","ERR489017","ERR489030","ERR489021","ERR489047","ERR488959","ERR488998","ERR489041","ERR489003","ERR488965","ERR489026","ERR489036","ERR488970","ERR488981","ERR489027","ERR489007","ERR489022","ERR488991","ERR489044","ERR488980","ERR489037","ERR489020","ERR488989","ERR488977","ERR488968","ERR488993","ERR489025","ERR488964","ERR489034","ERR489042","ERR488969","ERR488958","ERR488994","ERR488971","ERR488953","ERR489032","ERR488961","ERR488983","ERR488963","ERR489001","ERR488986","ERR488997","ERR488972"],"range":[223,631],"paddingInner":0,"paddingOuter":0},"axis":{"orient":"right","offset":-687,"labelFontSize":7.4,"labelPadding":7,"title":null}},
 "color":{"field":"v","type":"quantitative","scale":{"domain":[0,1],"range":["#BEBEBE","#0000FF"],"interpolate":"rgb","clamp":true},"legend":null}}},
{"data":{"name":"unit"},"mark":{"type":"rect","stroke":"#000","strokeWidth":1,"fill":{"gradient":"linear","x1":0,"y1":0,"x2":1,"y2":0,"stops":[{"offset":0,"color":"#BEBEBE"},{"offset":1,"color":"#0000FF"}]}},
 "encoding":{"x":{"field":"a","type":"quantitative","scale":{"domain":[0,1],"range":[31,168],"nice":false,"zero":false},"axis":{"orient":"bottom","offset":-1171,"values":[0,0.2,0.4,0.6,0.8],"format":"~g","ticks":true,"tickSize":4,"tickColor":"#000","labelFontSize":8.3,"labelPadding":2,"title":"Value","titleFont":"Liberation Sans","titleFontSize":8.2,"titleX":99,"titleY":24}},"x2":{"field":"b"},
 "y":{"field":"a","type":"quantitative","scale":{"domain":[0,1],"range":[185,71],"nice":false,"zero":false},"axis":{"orient":"left","offset":-31,"labels":false,"title":"A","titleFont":"Liberation Sans","titleFontSize":30,"titleAngle":0,"titleX":25,"titleY":54}},"y2":{"field":"b"}}},
{"data":{"values":[{"mid":0.5,"top":1,"t":"Color Key"}]},"mark":{"type":"text","font":"Liberation Sans","fontWeight":"bold","fontSize":10,"dy":-8,"color":"#000"},
 "encoding":{"x":{"field":"mid","type":"quantitative","scale":{"domain":[0,1],"range":[31,168],"nice":false,"zero":false},"axis":null},"y":{"field":"top","type":"quantitative","scale":{"domain":[0,1],"range":[185,71],"nice":false,"zero":false},"axis":null},"text":{"field":"t"}}},

{"data":{"name":"unit"},"mark":{"type":"rect","fill":"#BEBEBE"},
 "encoding":{"x":{"field":"a","type":"quantitative","scale":{"domain":[0,1],"range":[778,1205],"nice":false,"zero":false},"axis":{"orient":"top","offset":-225,"labels":false,"title":["% reads mapping to","each TRAV gene"],"titleFontSize":36.7,"titleLineHeight":49,"titleX":1002,"titleY":-86}},"x2":{"field":"b"},
 "y":{"field":"a","type":"quantitative","scale":{"domain":[0,1],"range":[634,225],"nice":false,"zero":false},"axis":{"orient":"left","offset":-778,"labels":false,"title":"Samples","titleFontSize":36,"titleAngle":-90,"titleX":-13,"titleY":447}},"y2":{"field":"b"}}},
{"data":{"name":"cellsB"},"transform":[{"lookup":"r","from":{"data":{"name":"samplesB"},"key":"r","fields":["s"]}},{"lookup":"c","from":{"data":{"name":"genesB"},"key":"c","fields":["g"]}}],"mark":{"type":"rect"},
 "encoding":{"x":{"field":"g","type":"nominal","sort":null,"scale":{"type":"band","domain":["TRAV3D.3","TRAV8D.1","TRAV7D.3","TRAV9N.3","TRAV7.3","TRAV6.5","TRAV13.1","TRAV15.1.DV6.1","TRAV4.3","TRAV21.DV12","TRAV6N.5","TRAV5.1","TRAV7D.5","TRAV12N.1","TRAV14N.3","TRAV6D.6","TRAV10N","TRAV9D.1","TRAV7D.2","TRAV3.1","TRAV11D","TRAV13N.2","TRAV15D.1.DV6D.1","TRAV7D.4","TRAV13D.1","TRAV4.4.DV10","TRAV14N.1","TRAV2","TRAV12.3","TRAV12N.3","TRAV14.3","TRAV8.2","TRAV14N.2","TRAV16D","TRAV12N.2","TRAV1","TRAV9N.4","TRAV7.1","TRAV10","TRAV7N.4","TRAV4D.3","TRAV6D.7","TRAV3.3","TRAV14D.3.DV8","TRAV5N.4","TRAV5D.4","TRAV6.1","TRAV6.2","TRAV6.3","TRAV6.4","TRAV6.6","TRAV6D.3","TRAV6D.4","TRAV6D.5","TRAV15.2.DV6.2","TRAV15D.2.DV6D.2","TRAV6N.6","TRAV6N.7","TRAV16N.DV11","TRAV7.2","TRAV7.4","TRAV7.5","TRAV7.6","TRAV7D.6","TRAV7N.5","TRAV7N.6","TRAV8.1","TRAV8D.2","TRAV8N.2","TRAV9.1","TRAV9.2","TRAV9.3","TRAV9D.2","TRAV9D.3","TRAV9D.4","TRAV9N.2","TRAV14D.1.DV7","TRAV11","TRAV11N","TRAV12.1","TRAV12.2","TRAV12D.1","TRAV12D.2","TRAV12D.3","TRAV13.2","TRAV13.3","TRAV13.4","TRAV13.5","TRAV13D.2","TRAV13D.3","TRAV13N.1","TRAV13N.3","TRAV14.2","TRAV14D.2","TRAV16","TRAV16N","TRAV17","TRAV18","TRAV19","TRAV20"],"range":[778,1205],"paddingInner":0,"paddingOuter":0},"axis":{"orient":"bottom","offset":-722,"labelAngle":-90,"labelFontSize":6.2,"labelPadding":9,"labelOffset":-2,"title":"TRAV gene","titleFontSize":37.5,"titleX":1004,"titleY":105}},
 "y":{"field":"s","type":"nominal","sort":null,"scale":{"type":"band","domain":["ERR489029","ERR489036","ERR488971","ERR489046","ERR489007","ERR488980","ERR489022","ERR488968","ERR489043","ERR489027","ERR488956","ERR488963","ERR488979","ERR489012","ERR488964","ERR488955","ERR488999","ERR488987","ERR488953","ERR488997","ERR489030","ERR489039","ERR488960","ERR489018","ERR488994","ERR489001","ERR488977","ERR488984","ERR489047","ERR489028","ERR489040","ERR489026","ERR488972","ERR488985","ERR489042","ERR489024","ERR488965","ERR489013","ERR489034","ERR489005","ERR488996","ERR489041","ERR488961","ERR489037","ERR489017","ERR489045","ERR488991","ERR489033","ERR488969","ERR489044","ERR488970","ERR489021","ERR488967","ERR488981","ERR488988","ERR488975","ERR489002","ERR489000","ERR489035","ERR488983","ERR489020","ERR488976","ERR489011","ERR488954","ERR489003","ERR489009","ERR488958","ERR488992","ERR488982","ERR489038","ERR488966"],"range":[225,634],"paddingInner":0,"paddingOuter":0},"axis":{"orient":"right","offset":-82,"labelFontSize":7.3,"labelPadding":8,"title":null}},
 "color":{"field":"v","type":"quantitative","scale":{"type":"pow","exponent":1.4,"domain":[0,0.95],"range":["#BEBEBE","#FF0000"],"interpolate":"rgb","clamp":true},"legend":null}}},
{"data":{"values":[{"lo":0.065,"hi":0.93,"a":0,"b":1}]},"mark":{"type":"rect","stroke":"#555","strokeWidth":1,"fill":{"gradient":"linear","x1":0,"y1":0,"x2":1,"y2":0,"stops":[{"offset":0,"color":"#BEBEBE"},{"offset":1,"color":"#FF0000"}]}},
 "encoding":{"x":{"field":"lo","type":"quantitative","scale":{"domain":[0.065,0.93],"range":[642,770],"nice":false,"zero":false},"axis":{"orient":"bottom","offset":-1171,"values":[0.2,0.4,0.6,0.8],"format":"~g","ticks":true,"tickSize":4,"tickColor":"#000","labelFontSize":8.3,"labelPadding":2,"title":"Value","titleFont":"Liberation Sans","titleFontSize":8.2,"titleX":701,"titleY":26}},"x2":{"field":"hi"},
 "y":{"field":"a","type":"quantitative","scale":{"domain":[0,1],"range":[185,71],"nice":false,"zero":false},"axis":{"orient":"left","offset":-642,"labels":false,"title":"B","titleFont":"Liberation Sans","titleFontSize":30,"titleAngle":0,"titleX":7,"titleY":54}},"y2":{"field":"b"}}},
{"data":{"values":[{"mid":0.4637,"top":1,"t":"Color Key"}]},"mark":{"type":"text","font":"Liberation Sans","fontWeight":"bold","fontSize":10,"dy":-7,"color":"#000"},
 "encoding":{"x":{"field":"mid","type":"quantitative","scale":{"domain":[0.065,0.93],"range":[642,770],"nice":false,"zero":false},"axis":null},"y":{"field":"top","type":"quantitative","scale":{"domain":[0,1],"range":[185,71],"nice":false,"zero":false},"axis":null},"text":{"field":"t"}}},

{"data":{"name":"unit"},"mark":{"type":"rect","filled":false,"stroke":"#999","strokeWidth":1.2},
 "encoding":{"x":{"field":"a","type":"quantitative","scale":{"domain":[0,1],"range":[107,587],"nice":false,"zero":false},"axis":{"orient":"top","offset":-828,"labels":false,"title":"C","titleFont":"Liberation Sans","titleFontSize":30,"titleX":55,"titleY":-56}},"x2":{"field":"b"},"y":{"field":"a","type":"quantitative","scale":{"domain":[0,1],"range":[1266,828],"nice":false,"zero":false},"axis":null},"y2":{"field":"b"}}},
{"data":{"values":[{"cx":2.3,"lo":-0.135,"hi":3.638}]},"mark":{"type":"rule","color":"#aaa","strokeWidth":1.2},
 "encoding":{"x":{"field":"cx","type":"quantitative","scale":{"domain":[-0.139,3.637],"range":[107,587],"nice":false,"zero":false},"axis":null},"y":{"field":"lo","type":"quantitative","scale":{"domain":[-0.135,3.638],"range":[1266,828],"nice":false,"zero":false},"axis":null},"y2":{"field":"hi"}}},
{"data":{"values":[{"cy":1.9,"lo":-0.139,"hi":3.637}]},"mark":{"type":"rule","color":"#aaa","strokeWidth":1.2},
 "encoding":{"y":{"field":"cy","type":"quantitative","scale":{"domain":[-0.135,3.638],"range":[1266,828],"nice":false,"zero":false},"axis":null},"x":{"field":"lo","type":"quantitative","scale":{"domain":[-0.139,3.637],"range":[107,587],"nice":false,"zero":false},"axis":null},"x2":{"field":"hi"}}},
{"data":{"name":"scatter"},"mark":{"type":"point","filled":false,"size":13,"strokeWidth":0.8,"opacity":1},
 "encoding":{"x":{"field":"tr","type":"quantitative","scale":{"domain":[-0.139,3.637],"range":[107,587],"nice":false,"zero":false},"axis":{"orient":"bottom","offset":-90,"values":[0,0.5,1,1.5,2,2.5,3,3.5],"format":".1f","ticks":true,"tickSize":4,"tickColor":"#888","labelFontSize":7.2,"labelColor":"#555","labelPadding":5,"title":"log(TRBV gene-mapped reads)","titleFontSize":33,"titleX":349,"titleY":59}},
 "y":{"field":"ta","type":"quantitative","scale":{"domain":[-0.135,3.638],"range":[1266,828],"nice":false,"zero":false},"axis":{"orient":"left","offset":-107,"values":[0,0.5,1,1.5,2,2.5,3,3.5],"format":".1f","ticks":true,"tickSize":4,"tickColor":"#888","labelFontSize":7.2,"labelColor":"#555","labelAngle":-90,"labelPadding":6,"title":"log(TRAV gene-mapped reads)","titleFontSize":33,"titleAngle":-90,"titleX":-49,"titleY":1046}},
 "color":{"field":"g","type":"nominal","scale":{"domain":["GFP-","GFP+"],"range":["#ff7070","#7070ff"]},"legend":{"orient":"none","legendX":188,"legendY":902,"title":null,"labelFont":"Liberation Sans","labelFontSize":7.5,"labelColor":"#444","symbolSize":13,"symbolStrokeWidth":0.8,"strokeColor":"#999","padding":3,"rowPadding":1,"labelOffset":3}}}},

{"data":{"name":"cellsD"},"transform":[{"lookup":"r","from":{"data":{"name":"samplesD"},"key":"r","fields":["s"]}},{"lookup":"c","from":{"data":{"name":"genesD"},"key":"c","fields":["g"]}}],"mark":{"type":"rect"},
 "encoding":{"x":{"field":"g","type":"nominal","sort":null,"scale":{"type":"band","domain":["TRBV5","TRBV13−2","TRBV29","TRBV19","TRBV13−1","TRBV20","TRBV4","TRBV1","TRBV2","TRBV31","TRBV17","TRBV16","TRBV13−3","TRBV24","TRBV15","TRBV12−2","TRBV14"],"range":[787,1171],"paddingInner":0,"paddingOuter":0},"axis":{"orient":"bottom","offset":-90,"labelAngle":-90,"labelFontSize":8,"labelPadding":10,"labelOffset":-3,"title":"TRBV gene","titleFontSize":37.5,"titleX":1004,"titleY":85}},
 "y":{"field":"s","type":"nominal","sort":null,"scale":{"type":"band","domain":["TRAV6D−7","TRAV4D−3","TRAV7N−4","TRAV15D−2/DV6D−2","TRAV10","TRAV7−1","TRAV9N−4","TRAV1","TRAV12N−2","TRAV16D/DV11","TRAV14N−2","TRAV8−2","TRAV14−3","TRAV12N−3","TRAV12−3","TRAV4−3","TRAV2","TRAV14N−1","TRAV4−4/DV10","TRAV15−2/DV6−2","TRAV7D−4","TRAV7−3","TRAV13N−2","TRAV11D","TRAV3−1","TRAV7D−2","TRAV9D−1","TRAV6D−6","TRAV14N−3","TRAV13−1","TRAV7D−3","TRAV21/DV12","TRAV6N−5","TRAV5−1","TRAV7D−5","TRAV6−5","TRAV8D−1","TRAV3D−3","TRAV4−2"],"range":[931,1266],"paddingInner":0,"paddingOuter":0},"axis":{"orient":"right","offset":-116,"labelFontSize":6.9,"labelPadding":7,"title":"TRAV gene","titleFontSize":37.5,"titleAngle":90,"titleX":76,"titleY":1087}},
 "color":{"field":"v","type":"quantitative","scale":{"domain":[0,2],"range":["#FFFFFF","#FFA500"],"interpolate":"rgb"},"legend":null}}},
{"data":{"values":[{"lo":0,"hi":2,"a":0,"b":1}]},"mark":{"type":"rect","stroke":"#333","strokeWidth":1,"fill":{"gradient":"linear","x1":0,"y1":0,"x2":1,"y2":0,"stops":[{"offset":0,"color":"#FFFFFF"},{"offset":1,"color":"#FFA500"}]}},
 "encoding":{"x":{"field":"lo","type":"quantitative","scale":{"domain":[0,2],"range":[648,780],"nice":false,"zero":false},"axis":{"orient":"bottom","offset":-460,"values":[0,0.5,1,1.5,2],"format":"~g","ticks":true,"tickSize":3,"tickColor":"#000","domain":true,"domainColor":"#000","domainWidth":2,"labelFontSize":7.5,"labelPadding":2,"title":"Value","titleFont":"Liberation Sans","titleFontSize":7.2,"titleX":714,"titleY":24}},"x2":{"field":"hi"},
 "y":{"field":"a","type":"quantitative","scale":{"domain":[0,1],"range":[896,797],"nice":false,"zero":false},"axis":{"orient":"left","offset":-648,"labels":false,"title":"D","titleFont":"Liberation Sans","titleFontSize":30,"titleAngle":0,"titleX":1,"titleY":773}},"y2":{"field":"b"}}},
{"data":{"values":[{"mid":1,"top":1,"t":"Color Key"}]},"mark":{"type":"text","font":"Liberation Sans","fontWeight":"bold","fontSize":9,"dy":-7,"color":"#000"},
 "encoding":{"x":{"field":"mid","type":"quantitative","scale":{"domain":[0,2],"range":[648,780],"nice":false,"zero":false},"axis":null},"y":{"field":"top","type":"quantitative","scale":{"domain":[0,1],"range":[896,797],"nice":false,"zero":false},"axis":null},"text":{"field":"t"}}}
]
}
